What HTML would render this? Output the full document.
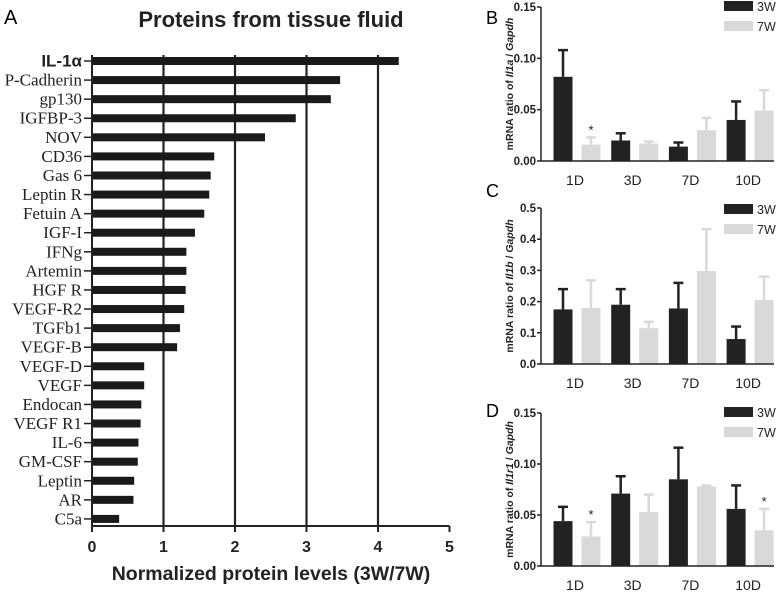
<!DOCTYPE html>
<html><head><meta charset="utf-8"><style>
html,body{margin:0;padding:0;background:#fff;}
svg{display:block;}
text{font-family:"Liberation Sans",Arial,sans-serif;}
.serif{font-family:"Liberation Serif","Times New Roman",serif;}
</style></head><body>
<svg id="chart" width="778" height="592" viewBox="0 0 778 592" xmlns="http://www.w3.org/2000/svg"></svg>
<script>
const proteinNames=["IL-1\u03b1","P-Cadherin","gp130","IGFBP-3","NOV","CD36","Gas 6","Leptin R","Fetuin A","IGF-I","IFNg","Artemin","HGF R","VEGF-R2","TGFb1","VEGF-B","VEGF-D","VEGF","Endocan","VEGF R1","IL-6","GM-CSF","Leptin","AR","C5a"];
const proteinValues=[4.29,3.47,3.34,2.85,2.42,1.71,1.66,1.64,1.57,1.44,1.32,1.32,1.31,1.29,1.23,1.19,0.73,0.73,0.69,0.68,0.65,0.64,0.59,0.58,0.38];
const xTicksA=[0,1,2,3,4,5];
const days=["1D","3D","7D","10D"];
const il1a3W=[0.082,0.020,0.014,0.040];
const il1a3Werr=[0.108,0.027,0.018,0.058];
const il1a7W=[0.016,0.017,0.030,0.049];
const il1a7Werr=[0.023,0.019,0.042,0.069];
const il1b3W=[0.175,0.19,0.178,0.08];
const il1b3Werr=[0.24,0.24,0.26,0.12];
const il1b7W=[0.18,0.115,0.298,0.205];
const il1b7Werr=[0.268,0.135,0.432,0.28];
const il1r13W=[0.044,0.071,0.085,0.056];
const il1r13Werr=[0.058,0.088,0.116,0.079];
const il1r17W=[0.029,0.053,0.078,0.035];
const il1r17Werr=[0.043,0.070,0.079,0.056];
const ticksSmall=["0.00","0.05","0.10","0.15"];
const ticksC=["0.0","0.1","0.2","0.3","0.4","0.5"];

const NS="http://www.w3.org/2000/svg";
const svg=document.getElementById('chart');
function mk(tag,attrs,parent){const e=document.createElementNS(NS,tag);for(const k in attrs)e.setAttribute(k,attrs[k]);(parent||svg).appendChild(e);return e;}
function txt(s,attrs,parent){const e=mk('text',attrs,parent);e.textContent=s;return e;}

// Panel A
const gA=mk('g',{});


const ax0=92,axUnit=71.5,yFirst=61,yStep=19.08,axisY=526;
const xA=v=>ax0+v*axUnit;
const yA=i=>yFirst+i*yStep;
let t=txt('A',{x:4,y:24,'font-size':20},gA);

t=txt('Proteins from tissue fluid',{x:271,y:27,'font-size':22,'font-weight':'bold','text-anchor':'middle',fill:'#222'},gA);

for(let k=1;k<xTicksA.length-1;k++){
  const l=mk('line',{x1:xA(xTicksA[k]),x2:xA(xTicksA[k]),y1:55,y2:axisY,stroke:'#222','stroke-width':2.2},gA);
  
}
proteinNames.forEach((n,i)=>{
  const r=mk('rect',{x:xA(0),y:yA(i)-4,width:xA(proteinValues[i])-xA(0),height:8,fill:'#1a1a1a'},gA);
  
  
  mk('line',{x1:84,x2:92,y1:yA(i),y2:yA(i),stroke:'#222','stroke-width':1.5},gA);
  const lb=txt(n,{x:82,y:yA(i)+5.5,'font-size':i===0?17:17,'text-anchor':'end',class:i===0?'':'serif','font-weight':i===0?'bold':'normal',fill:'#222'},gA);
  
});
mk('line',{x1:ax0,x2:ax0,y1:55,y2:axisY+5,stroke:'#222','stroke-width':2},gA);
mk('line',{x1:ax0,x2:xA(5),y1:axisY,y2:axisY,stroke:'#222','stroke-width':2},gA);
xTicksA.forEach(v=>{
  mk('line',{x1:xA(v),x2:xA(v),y1:axisY,y2:axisY+6,stroke:'#222','stroke-width':2},gA);
  const lb=txt(String(v),{x:xA(v),y:axisY+26,'font-size':16,'font-weight':'bold','text-anchor':'middle',fill:'#222'},gA);
  
});
t=txt('Normalized protein levels (3W/7W)',{x:271,y:580,'font-size':19.5,'font-weight':'bold','text-anchor':'middle',fill:'#222'},gA);


// small panels
function panel(cfg){
  const g=mk('g',{});
  
  
  const axX=541,right=774,yTop=cfg.yTop,yBot=cfg.yBot,max=cfg.max;
  const y=v=>yBot-(v/max)*(yBot-yTop);
  const step=57.7,c0=577;
  const gx=i=>c0+i*step;
  let p=txt(cfg.letter,{x:486,y:cfg.letterY,'font-size':18},g);
  
  cfg.ticks.forEach(s=>{
    const v=parseFloat(s);
    mk('line',{x1:axX-4,x2:axX,y1:y(v),y2:y(v),stroke:'#222','stroke-width':1.5},g);
    const lb=txt(s,{x:axX-5,y:y(v)+4,'font-size':11.5,'font-weight':'bold','text-anchor':'end',fill:'#222'},g);
    
  });
  const series=[[cfg.a,cfg.aerr,'#222',-14],[cfg.b,cfg.berr,'#d9d9d9',14]];
  days.forEach((d,i)=>{
    series.forEach((s,j)=>{
      const cx=gx(i)+s[3];
      const r=mk('rect',{x:cx-9.5,y:y(s[0][i]),width:19,height:yBot-y(s[0][i]),fill:s[2]},g);
      
      
      mk('line',{x1:cx,x2:cx,y1:y(s[0][i]),y2:y(s[1][i]),stroke:s[2],'stroke-width':2.5},g);
      mk('line',{x1:cx-5,x2:cx+5,y1:y(s[1][i]),y2:y(s[1][i]),stroke:s[2],'stroke-width':2.5},g);
      if(j===1&&cfg.stars.includes(i)){
        const st=txt('*',{x:cx,y:y(s[1][i])-3,'font-size':13,'text-anchor':'middle',fill:'#222'},g);
        
      }
    });
    const lb=txt(d,{x:gx(i)-2,y:yBot+24,'font-size':14,'text-anchor':'middle',fill:'#222'},g);
    
  });
  mk('line',{x1:axX,x2:axX,y1:yTop,y2:yBot,stroke:'#222','stroke-width':1.5},g);
  mk('line',{x1:axX,x2:right,y1:yBot,y2:yBot,stroke:'#222','stroke-width':1.5},g);
  const yt=mk('text',{transform:`translate(513,${(yTop+yBot)/2}) rotate(-90)`,'font-size':10.5,'font-weight':'bold','text-anchor':'middle',fill:'#222'},g);
  yt.innerHTML='mRNA ratio of <tspan font-style="italic">'+cfg.gene+'</tspan> / <tspan font-style="italic">Gapdh</tspan>';
  
  const lg=mk('g',{},g);
  
  const ly=cfg.yTop+cfg.legOff;
  mk('rect',{x:724,y:ly-5,width:29,height:10,fill:'#222'},lg);
  let e=txt('3W',{x:757,y:ly+5,'font-size':12.5,fill:'#222'},lg);
  
  mk('rect',{x:724,y:ly+15,width:29,height:10,fill:'#d9d9d9'},lg);
  e=txt('7W',{x:757,y:ly+25,'font-size':12.5,fill:'#222'},lg);
  
}
panel({name:'panel-b',letter:'B',letterY:24,yTop:7,yBot:161,max:0.15,ticks:ticksSmall,a:il1a3W,aerr:il1a3Werr,b:il1a7W,berr:il1a7Werr,stars:[0],gene:'Il1a',legOff:-1});
panel({name:'panel-c',letter:'C',letterY:197,yTop:208,yBot:364,max:0.5,ticks:ticksC,a:il1b3W,aerr:il1b3Werr,b:il1b7W,berr:il1b7Werr,stars:[],gene:'Il1b',legOff:1});
panel({name:'panel-d',letter:'D',letterY:417,yTop:413,yBot:566,max:0.15,ticks:ticksSmall,a:il1r13W,aerr:il1r13Werr,b:il1r17W,berr:il1r17Werr,stars:[0,3],gene:'Il1r1',legOff:-1});
</script>
</body></html>
